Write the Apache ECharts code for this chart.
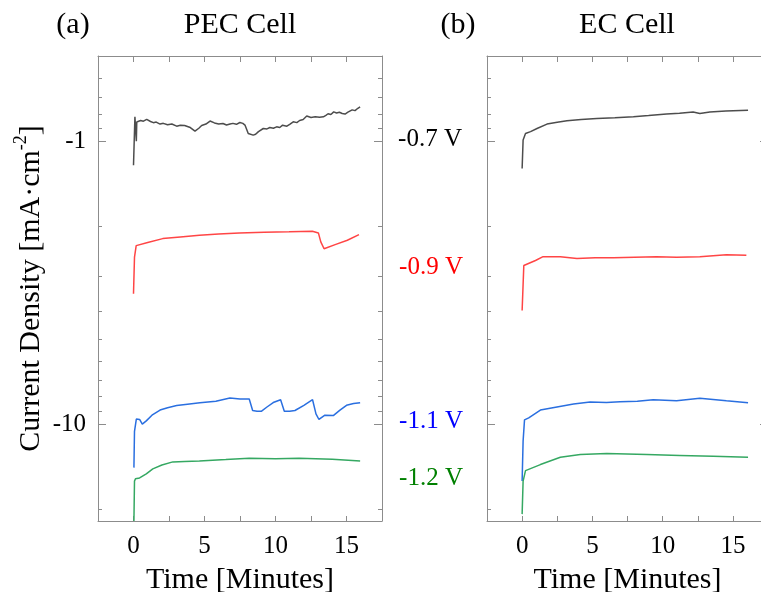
<!DOCTYPE html>
<html>
<head>
<meta charset="utf-8">
<script src="https://cdn.jsdelivr.net/npm/echarts@6/dist/echarts.min.js"></script>
<style>
  html, body { margin: 0; padding: 0; background: #fff; }
  #main { width: 761px; height: 592px; }
</style>
</head>
<body>
<div id="main"></div>
<script>
// 时间 (分钟) 与电流密度幅值 (mA/cm2, 图中显示为负值)
var pecBlackT = [0, 0.1, 0.2, 0.23, 0.5, 0.7, 0.93, 1.2, 1.4, 1.6, 1.87, 2.1, 2.4, 2.7, 3.04, 3.3, 3.6, 4.0, 4.33, 4.6, 4.8, 5.1, 5.39, 5.7, 6.0, 6.3, 6.55, 6.8, 7.0, 7.25, 7.49, 7.7, 7.85, 8.08, 8.43, 8.6, 8.8, 9.14, 9.4, 9.6, 9.85, 10.08, 10.3, 10.5, 10.8, 11.0, 11.25, 11.5, 11.7, 11.95, 12.2, 12.5, 12.8, 13.1, 13.37, 13.55, 13.7, 13.9, 14.1, 14.3, 14.5, 14.7, 14.9, 15.1, 15.4, 15.6, 15.8, 15.96];
var pecBlackJ = [1.216, 0.82, 1.0, 0.855, 0.845, 0.85, 0.838, 0.852, 0.86, 0.856, 0.87, 0.865, 0.875, 0.87, 0.885, 0.878, 0.88, 0.895, 0.922, 0.9, 0.88, 0.87, 0.849, 0.862, 0.87, 0.866, 0.877, 0.87, 0.865, 0.872, 0.859, 0.865, 0.877, 0.939, 0.952, 0.945, 0.925, 0.902, 0.905, 0.895, 0.9, 0.89, 0.895, 0.878, 0.885, 0.872, 0.854, 0.86, 0.845, 0.838, 0.815, 0.825, 0.82, 0.823, 0.82, 0.81, 0.8, 0.805, 0.788, 0.795, 0.79, 0.798, 0.802, 0.79, 0.775, 0.78, 0.765, 0.756];

var pecRedT = [0, 0.07, 0.19, 1.0, 2.06, 3.3, 4.64, 6.0, 7.45, 9.2, 10.96, 12.6, 13.02, 13.19, 13.42, 14.2, 15.06, 15.88];
var pecRedJ = [3.46, 2.57, 2.34, 2.28, 2.21, 2.18, 2.15, 2.13, 2.11, 2.10, 2.09, 2.08, 2.11, 2.27, 2.40, 2.32, 2.24, 2.14];

var pecBlueT = [0.03, 0.07, 0.2, 0.43, 0.62, 0.9, 1.3, 1.87, 2.4, 3.04, 3.8, 4.68, 5.8, 6.79, 7.5, 8.15, 8.39, 8.7, 9.02, 9.4, 9.84, 10.36, 10.62, 11.0, 11.37, 12.0, 12.61, 12.85, 13.06, 13.48, 14.07, 14.54, 15.0, 15.5, 15.96];
var pecBlueJ = [14.25, 10.6, 9.6, 9.63, 10.0, 9.74, 9.3, 8.92, 8.75, 8.6, 8.5, 8.4, 8.3, 8.09, 8.15, 8.15, 8.95, 9.0, 9.0, 8.7, 8.39, 8.2, 9.0, 9.0, 8.95, 8.58, 8.2, 9.2, 9.63, 9.3, 9.33, 8.92, 8.58, 8.45, 8.4];

var pecGreenT = [0.03, 0.07, 0.14, 0.43, 0.9, 1.36, 2.0, 2.77, 3.6, 4.64, 6.5, 8.15, 10.0, 11.66, 14.0, 15.96];
var pecGreenJ = [22.0, 15.9, 15.6, 15.5, 15.0, 14.4, 13.95, 13.6, 13.55, 13.5, 13.35, 13.2, 13.25, 13.2, 13.3, 13.5];

var ecBlackT = [0, 0.07, 0.24, 0.6, 1.06, 1.77, 2.5, 3.19, 4.2, 5.32, 6.6, 7.92, 9.0, 10.28, 11.2, 12.17, 12.65, 13.36, 14.5, 16.08];
var ecBlackJ = [1.25, 0.99, 0.939, 0.925, 0.902, 0.87, 0.857, 0.847, 0.838, 0.831, 0.826, 0.82, 0.812, 0.802, 0.797, 0.788, 0.798, 0.788, 0.783, 0.777];

var ecRedT = [0, 0.12, 0.95, 1.49, 2.72, 3.9, 5.2, 6.5, 8.0, 9.57, 11.0, 12.65, 14.54, 15.96];
var ecRedJ = [3.97, 2.75, 2.64, 2.56, 2.56, 2.60, 2.58, 2.58, 2.57, 2.56, 2.57, 2.56, 2.52, 2.53];

var ecBlueT = [0, 0.07, 0.17, 0.47, 1.3, 2.48, 3.66, 4.84, 6.0, 6.97, 8.2, 9.33, 10.99, 12.65, 14.54, 16.08];
var ecBlueJ = [15.9, 11.46, 9.66, 9.5, 8.92, 8.7, 8.49, 8.35, 8.38, 8.33, 8.3, 8.2, 8.27, 8.1, 8.27, 8.4];

var ecGreenT = [0, 0.07, 0.24, 1.3, 2.72, 4.14, 6.03, 8.87, 11.23, 13.6, 16.08];
var ecGreenJ = [20.8, 15.9, 14.6, 13.9, 13.1, 12.8, 12.7, 12.8, 12.9, 13.0, 13.1];

var yMajor = [1, 10];
var yMinor = [0.5, 0.6, 0.7, 0.8, 0.9, 2, 3, 4, 5, 6, 7, 8, 9, 20];
var xTicks = [0, 2.5, 5, 7.5, 10, 12.5, 15];
var xLabels = [0, 5, 10, 15];
var biasLabels = ['-0.7 V', '-0.9 V', '-1.1 V', '-1.2 V'];

var font = 'Liberation Serif';
var axisGray = '#8c8c8c';
var colors = ['#4d4d4d', '#ff4545', '#2a6fe0', '#35a862'];
var textColors = ['#000000', '#ff0000', '#0000ff', '#008000'];

function pairs(t, j) {
  return t.map(function (v, i) { return [v, j[i]]; });
}

function xAxes(gi) {
  return [{
    gridIndex: gi, type: 'value', min: -2.5, max: 17.5, position: 'bottom',
    name: 'Time [Minutes]', nameLocation: 'middle', nameGap: 44,
    nameTextStyle: { fontFamily: font, fontSize: 30, color: '#000' },
    axisLine: { onZero: false, lineStyle: { color: axisGray } },
    axisTick: { inside: true, length: 5, customValues: xTicks, lineStyle: { color: axisGray } },
    axisLabel: { customValues: xLabels, fontFamily: font, fontSize: 25, color: '#000', margin: 13 },
    splitLine: { show: false }
  }, {
    gridIndex: gi, type: 'value', min: -2.5, max: 17.5, position: 'top',
    axisLine: { onZero: false, lineStyle: { color: axisGray } },
    axisTick: { inside: true, length: 6, customValues: xTicks, lineStyle: { color: axisGray } },
    axisLabel: { show: false },
    splitLine: { show: false }
  }];
}

function yAxes(gi, withName) {
  var base = { gridIndex: gi, type: 'log', logBase: 10, min: 0.5, max: 22, inverse: true, splitLine: { show: false } };
  var left = Object.assign({}, base, {
    position: 'left',
    axisLine: { show: true, onZero: false, lineStyle: { color: axisGray } },
    axisTick: { inside: true, length: 8, customValues: yMajor, lineStyle: { color: axisGray } },
    axisLabel: {
      show: withName, customValues: yMajor, fontFamily: font, fontSize: 25, color: '#000', margin: 12,
      formatter: function (v) { return '-' + v; }
    }
  });
  if (withName) {
    left.name = '{a|Current Density [mA·cm}{s|-2}{a|]}';
    left.nameLocation = 'middle';
    left.nameGap = 52;
    left.nameRotate = 90;
    left.nameTextStyle = {
      rich: {
        a: { fontFamily: font, fontSize: 30, color: '#000', lineHeight: 34, verticalAlign: 'bottom' },
        s: { fontFamily: font, fontSize: 18, color: '#000', lineHeight: 34, verticalAlign: 'top' }
      }
    };
  }
  var leftMinor = Object.assign({}, base, {
    position: 'left',
    axisLine: { show: false, onZero: false },
    axisTick: { inside: true, length: 4, customValues: yMinor, lineStyle: { color: axisGray } },
    axisLabel: { show: false }
  });
  var right = Object.assign({}, base, {
    position: 'right',
    axisLine: { show: true, onZero: false, lineStyle: { color: axisGray } },
    axisTick: { inside: true, length: 8, customValues: yMajor, lineStyle: { color: axisGray } },
    axisLabel: { show: false }
  });
  var rightMinor = Object.assign({}, base, {
    position: 'right',
    axisLine: { show: false, onZero: false },
    axisTick: { inside: true, length: 4, customValues: yMinor, lineStyle: { color: axisGray } },
    axisLabel: { show: false }
  });
  return [left, leftMinor, right, rightMinor];
}

function line(data, color, gi) {
  return {
    type: 'line', xAxisIndex: gi * 2, yAxisIndex: gi * 4, data: data,
    showSymbol: false, silent: true, animation: false,
    lineStyle: { color: color, width: 1.5 }
  };
}

function label(text, x, y, color, size) {
  return {
    type: 'text', x: x, y: y,
    style: { text: text, fill: color, font: size + 'px "' + font + '"', textAlign: 'center', textVerticalAlign: 'middle' }
  };
}

var chart = echarts.init(document.getElementById('main'));
var option = {
  animation: false,
  backgroundColor: '#fff',
  grid: [
    { left: 98, top: 56, width: 284, height: 465, containLabel: false, outerBoundsMode: 'none' },
    { left: 487, top: 56, width: 281, height: 465, containLabel: false, outerBoundsMode: 'none' }
  ],
  xAxis: xAxes(0).concat(xAxes(1)),
  yAxis: yAxes(0, true).concat(yAxes(1, false)),
  series: [
    line(pairs(pecBlackT, pecBlackJ), colors[0], 0),
    line(pairs(pecRedT, pecRedJ), colors[1], 0),
    line(pairs(pecBlueT, pecBlueJ), colors[2], 0),
    line(pairs(pecGreenT, pecGreenJ), colors[3], 0),
    line(pairs(ecBlackT, ecBlackJ), colors[0], 1),
    line(pairs(ecRedT, ecRedJ), colors[1], 1),
    line(pairs(ecBlueT, ecBlueJ), colors[2], 1),
    line(pairs(ecGreenT, ecGreenJ), colors[3], 1)
  ],
  graphic: [
    label('(a)', 73, 25, '#000', 30),
    label('PEC Cell', 240, 25, '#000', 30),
    label('(b)', 458, 25, '#000', 30),
    label('EC Cell', 627, 25, '#000', 30),
    label(biasLabels[0], 430, 139, textColors[0], 25),
    label(biasLabels[1], 431, 267, textColors[1], 25),
    label(biasLabels[2], 431, 421, textColors[2], 25),
    label(biasLabels[3], 431, 478, textColors[3], 25)
  ]
};
chart.setOption(option);

window.onresize = function () {
  chart.resize();
};
</script>
</body>
</html>
